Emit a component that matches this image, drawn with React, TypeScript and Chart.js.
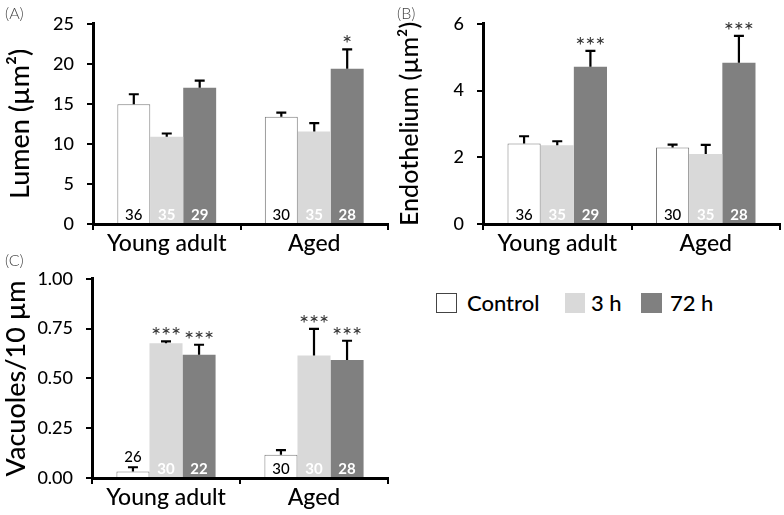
import React, { useEffect, useRef } from "react";
import { Chart, registerables } from "chart.js";
Chart.register(...registerables);

const categories = ["Young adult", "Aged"];
const seriesLabels = ["Control", "3 h", "72 h"];
const seriesColors = ["#ffffff", "#d9d9d9", "#808080"];
const seriesBorders = ["#7a7a7a", "#d9d9d9", "#808080"];

// Panel A: Lumen (µm²)
const lumenControl = [14.95, 13.4];
const lumen3h = [10.9, 11.55];
const lumen72h = [17.0, 19.4];
const lumenControlErr = [1.25, 0.5];
const lumen3hErr = [0.4, 1.05];
const lumen72hErr = [0.9, 2.4];
const lumenControlN = [36, 30];
const lumen3hN = [35, 35];
const lumen72hN = [29, 28];
const lumenControlSig = ["", ""];
const lumen3hSig = ["", ""];
const lumen72hSig = ["", "*"];
const lumenTicks = [0, 5, 10, 15, 20, 25];

// Panel B: Endothelium (µm²)
const endoControl = [2.41, 2.29];
const endo3h = [2.36, 2.1];
const endo72h = [4.71, 4.83];
const endoControlErr = [0.22, 0.09];
const endo3hErr = [0.12, 0.27];
const endo72hErr = [0.48, 0.81];
const endoControlN = [36, 30];
const endo3hN = [35, 35];
const endo72hN = [29, 28];
const endoControlSig = ["", ""];
const endo3hSig = ["", ""];
const endo72hSig = ["***", "***"];
const endoTicks = [0, 2, 4, 6];

// Panel C: Vacuoles/10 µm
const vacControl = [0.033, 0.117];
const vac3h = [0.676, 0.615];
const vac72h = [0.619, 0.592];
const vacControlErr = [0.021, 0.023];
const vac3hErr = [0.01, 0.134];
const vac72hErr = [0.05, 0.097];
const vacControlN = [26, 30];
const vac3hN = [30, 30];
const vac72hN = [22, 28];
const vacControlSig = ["", ""];
const vac3hSig = ["***", "***"];
const vac72hSig = ["***", "***"];
const vacTicks = [0, 0.25, 0.5, 0.75, 1.0];

const FONT = "Lato, 'Open Sans', sans-serif";

type PanelProps = {
  left: number;
  top: number;
  width: number;
  height: number;
  axisLeft: number;
  areaTop: number;
  areaBottom: number;
  areaRight: number;
  title: string;
  titleSize: number;
  titlePad: number;
  ticks: number[];
  decimals: number;
  values: number[][];
  errs: number[][];
  ns: number[][];
  sigs: string[][];
};

function Panel(p: PanelProps) {
  const ref = useRef<HTMLCanvasElement | null>(null);
  useEffect(() => {
    if (!ref.current) return;
    const annot = {
      id: "annot",
      afterDatasetsDraw(chart: any) {
        const ctx = chart.ctx;
        const ys = chart.scales.y;
        chart.data.datasets.forEach((ds: any, i: number) => {
          const meta = chart.getDatasetMeta(i);
          meta.data.forEach((el: any, j: number) => {
            const v = ds.data[j];
            const e = p.errs[i][j];
            const x = el.x;
            const topY = ys.getPixelForValue(v + e);
            ctx.save();
            ctx.strokeStyle = "#000";
            ctx.lineWidth = 2.2;
            ctx.beginPath();
            ctx.moveTo(x, el.y);
            ctx.lineTo(x, topY);
            ctx.moveTo(x - 5, topY);
            ctx.lineTo(x + 5, topY);
            ctx.stroke();
            // n labels
            ctx.textAlign = "center";
            ctx.textBaseline = "alphabetic";
            const barH = ys.bottom - el.y;
            if (i === 0) {
              ctx.font = `500 15px ${FONT}`;
              ctx.fillStyle = "#000";
            } else {
              ctx.font = `bold 15px ${FONT}`;
              ctx.fillStyle = "#fff";
            }
            const nTxt = String(p.ns[i][j]);
            if (barH < 22) {
              ctx.fillText(nTxt, x, topY - 5);
            } else {
              ctx.fillText(nTxt, x, ys.bottom - 4.5);
            }
            // significance stars
            const s = p.sigs[i][j];
            if (s) {
              ctx.font = `24px ${FONT}`;
              ctx.fillStyle = "#333";
              const n = s.length;
              for (let k = 0; k < n; k++) {
                ctx.fillText("*", x + (k - (n - 1) / 2) * 10, topY + 3);
              }
            }
            ctx.restore();
          });
        });
      },
    };
    const chart = new Chart(ref.current, {
      type: "bar",
      data: {
        labels: categories,
        datasets: p.values.map((vals, i) => ({
          label: seriesLabels[i],
          data: vals,
          backgroundColor: seriesColors[i],
          borderColor: seriesBorders[i],
          borderWidth: i === 0 ? 1 : 0,
          categoryPercentage: 0.67,
          barPercentage: 1,
        })),
      },
      options: {
        responsive: false,
        animation: false,
        devicePixelRatio: 1,
        layout: {
          padding: { top: p.areaTop, right: p.width - p.areaRight, left: 0, bottom: 0 },
        },
        plugins: { legend: { display: false }, tooltip: { enabled: false } },
        scales: {
          x: {
            type: "category",
            offset: true,
            z: 1,
            grid: {
              offset: true,
              drawOnChartArea: false,
              drawTicks: true,
              tickLength: 6,
              color: "#000",
              lineWidth: 2,
            },
            border: { display: true, color: "#000", width: 3 },
            ticks: { font: { family: FONT, size: 23, weight: "500" }, color: "#000", padding: 0 },
            afterFit: (s: any) => {
              s.height = p.height - p.areaBottom;
            },
          },
          y: {
            min: 0,
            max: p.ticks[p.ticks.length - 1],
            z: 1,
            afterBuildTicks: (s: any) => {
              s.ticks = p.ticks.map((v) => ({ value: v }));
            },
            grid: {
              drawOnChartArea: false,
              drawTicks: true,
              tickLength: 6,
              color: "#000",
              lineWidth: 2,
            },
            border: { display: true, color: "#000", width: 3 },
            ticks: {
              font: { family: FONT, size: 18, weight: "500" },
              color: "#000",
              padding: 13,
              callback: (v: any) => Number(v).toFixed(p.decimals),
            },
            title: {
              display: true,
              text: p.title,
              font: { family: FONT, size: p.titleSize, weight: "500" },
              color: "#000",
              padding: { top: p.titlePad, bottom: 0 },
            },
            afterFit: (s: any) => {
              s.width = p.axisLeft;
            },
          },
        },
      } as any,
      plugins: [annot],
    });
    return () => chart.destroy();
  }, []);
  return (
    <canvas
      ref={ref}
      width={p.width}
      height={p.height}
      style={{ position: "absolute", left: p.left, top: p.top, width: p.width, height: p.height }}
    />
  );
}

const labelStyle: React.CSSProperties = {
  position: "absolute",
  fontFamily: FONT,
  fontWeight: 300,
  fontSize: 16,
  color: "#444",
  lineHeight: "18px",
};

const legendText: React.CSSProperties = {
  position: "absolute",
  fontFamily: FONT,
  fontWeight: 500,
  fontSize: 22,
  color: "#000",
  lineHeight: "26px",
  top: 290,
};

export default function App() {
  return (
    <div style={{ position: "absolute", left: 0, top: 0, width: 784, height: 515, background: "#fff", overflow: "hidden" }}>
      <Panel
        left={0} top={0} width={392} height={255}
        axisLeft={93} areaTop={15} areaBottom={224} areaRight={388}
        title="Lumen (µm²)" titleSize={27} titlePad={4}
        ticks={lumenTicks} decimals={0}
        values={[lumenControl, lumen3h, lumen72h]}
        errs={[lumenControlErr, lumen3hErr, lumen72hErr]}
        ns={[lumenControlN, lumen3hN, lumen72hN]}
        sigs={[lumenControlSig, lumen3hSig, lumen72hSig]}
      />
      <Panel
        left={392} top={0} width={392} height={255}
        axisLeft={91} areaTop={15} areaBottom={224} areaRight={388}
        title="Endothelium (µm²)" titleSize={25} titlePad={3}
        ticks={endoTicks} decimals={0}
        values={[endoControl, endo3h, endo72h]}
        errs={[endoControlErr, endo3hErr, endo72hErr]}
        ns={[endoControlN, endo3hN, endo72hN]}
        sigs={[endoControlSig, endo3hSig, endo72hSig]}
      />
      <Panel
        left={0} top={255} width={392} height={260}
        axisLeft={92} areaTop={23} areaBottom={223} areaRight={388}
        title="Vacuoles/10 µm" titleSize={27} titlePad={0}
        ticks={vacTicks} decimals={2}
        values={[vacControl, vac3h, vac72h]}
        errs={[vacControlErr, vac3hErr, vac72hErr]}
        ns={[vacControlN, vac3hN, vac72hN]}
        sigs={[vacControlSig, vac3hSig, vac72hSig]}
      />
      <div style={{ ...labelStyle, left: 5, top: 4 }}>(A)</div>
      <div style={{ ...labelStyle, left: 397, top: 4 }}>(B)</div>
      <div style={{ ...labelStyle, left: 5, top: 251 }}>(C)</div>
      <div style={{ position: "absolute", left: 436, top: 293, width: 21, height: 20, boxSizing: "border-box", border: "1.5px solid #444", background: seriesColors[0] }} />
      <div style={{ ...legendText, left: 467 }}>{seriesLabels[0]}</div>
      <div style={{ position: "absolute", left: 565, top: 293, width: 20, height: 20, background: seriesColors[1] }} />
      <div style={{ ...legendText, left: 591 }}>{seriesLabels[1]}</div>
      <div style={{ position: "absolute", left: 641, top: 293, width: 21, height: 20, background: seriesColors[2] }} />
      <div style={{ ...legendText, left: 670 }}>{seriesLabels[2]}</div>
    </div>
  );
}
